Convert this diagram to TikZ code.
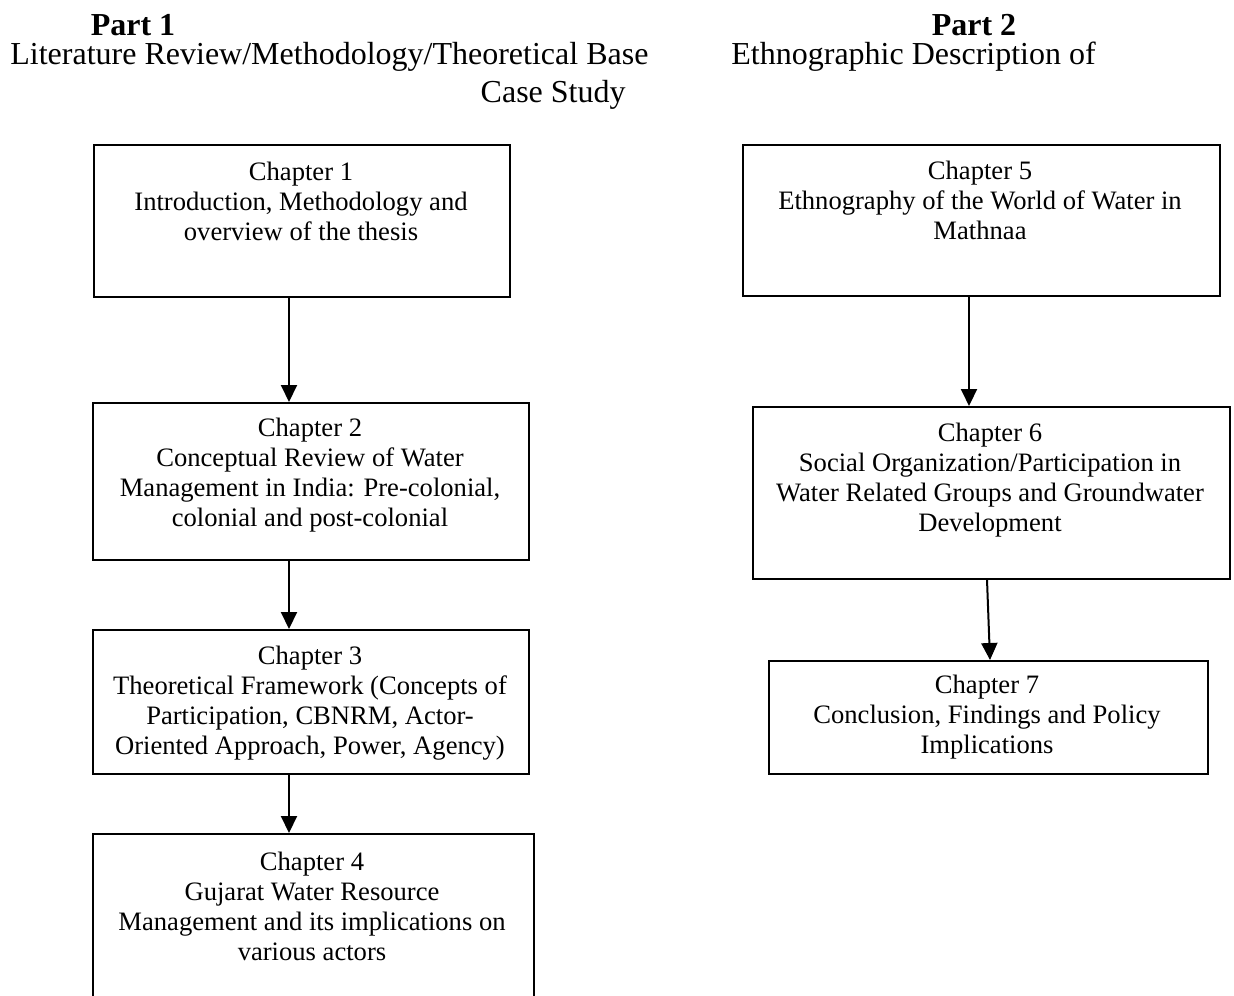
\documentclass[tikz,border=0pt]{standalone}
\usepackage{fontspec}
\setmainfont{Liberation Serif}
\usetikzlibrary{arrows.meta, positioning}

\begin{document}
\begin{tikzpicture}[x=0.5pt, y=-0.5pt,
  chapbox/.style={rectangle, draw=black, line width=0.9pt, anchor=north west, inner sep=0pt},
  chaptext/.style={align=center, font=\fontsize{13.3}{15}\selectfont, inner sep=0pt},
  parthead/.style={font=\fontsize{16}{18}\selectfont\bfseries, inner sep=0pt},
  partsub/.style={font=\fontsize{16}{18}\selectfont, inner sep=0pt},
  flow/.style={line width=1pt, -{Triangle[width=8pt, length=8.5pt]}}]
  \useasboundingbox (0,0) rectangle (1234,995);
  \begin{scope}
  \clip (0,0) rectangle (1234,995);
  % part headings
  \node[parthead] (p1) at (133,25) {Part 1};
  \node[partsub, anchor=west] (p1sub) at (10,57) {Literature Review/Methodology/Theoretical Base};
  \node[partsub, anchor=east] (p1case) at (626,95) {Case Study};
  \node[parthead] (p2) at (974,25) {Part 2};
  \node[partsub, anchor=west] (p2sub) at (731,57) {Ethnographic Description of};

  % part 1 chapters
  \node[chapbox, minimum width=208pt, minimum height=76pt] (ch1) at (93,144) {};
  \node[chaptext] (ch1t) at (301,201) {Chapter 1\\Introduction, Methodology and\\overview of the thesis};
  \node[chapbox, minimum width=218pt, minimum height=78.5pt] (ch2) at (92,402) {};
  \node[chaptext] (ch2t) at (310,475) {Chapter 2\\Conceptual Review of Water\\Management in India: Pre-colonial,\\colonial and post-colonial};
  \node[chapbox, minimum width=218pt, minimum height=72pt] (ch3) at (92,629) {};
  \node[chaptext] (ch3t) at (310,703) {Chapter 3\\Theoretical Framework (Concepts of\\Participation, CBNRM, Actor-\\Oriented Approach, Power, Agency)};
  \node[chapbox, minimum width=220.5pt, minimum height=100pt] (ch4) at (92,833) {};
  \node[chaptext] (ch4t) at (312,906) {Chapter 4\\Gujarat Water Resource\\Management and its implications on\\various actors};

  % part 2 chapters
  \node[chapbox, minimum width=238.5pt, minimum height=75.5pt] (ch5) at (742,144) {};
  \node[chaptext] (ch5t) at (980,200) {Chapter 5\\Ethnography of the World of Water in\\Mathnaa};
  \node[chapbox, minimum width=238.5pt, minimum height=86pt] (ch6) at (752,406) {};
  \node[chaptext] (ch6t) at (990,480) {Chapter 6\\Social Organization/Participation in\\Water Related Groups and Groundwater\\Development};
  \node[chapbox, minimum width=219.5pt, minimum height=56.5pt] (ch7) at (768,660) {};
  \node[chaptext] (ch7t) at (987,717) {Chapter 7\\Conclusion, Findings and Policy\\Implications};

  % arrows
  \draw[flow] (ch1.south -| 289,0) -- (ch2.north -| 289,0);
  \draw[flow] (ch2.south -| 289,0) -- (ch3.north -| 289,0);
  \draw[flow] (ch3.south -| 289,0) -- (ch4.north -| 289,0);
  \draw[flow] (ch5.south -| 969,0) -- (ch6.north -| 969,0);
  \draw[flow] (ch6.south -| 987,0) -- (ch7.north -| 990,0);
  \end{scope}
\end{tikzpicture}
\end{document}
